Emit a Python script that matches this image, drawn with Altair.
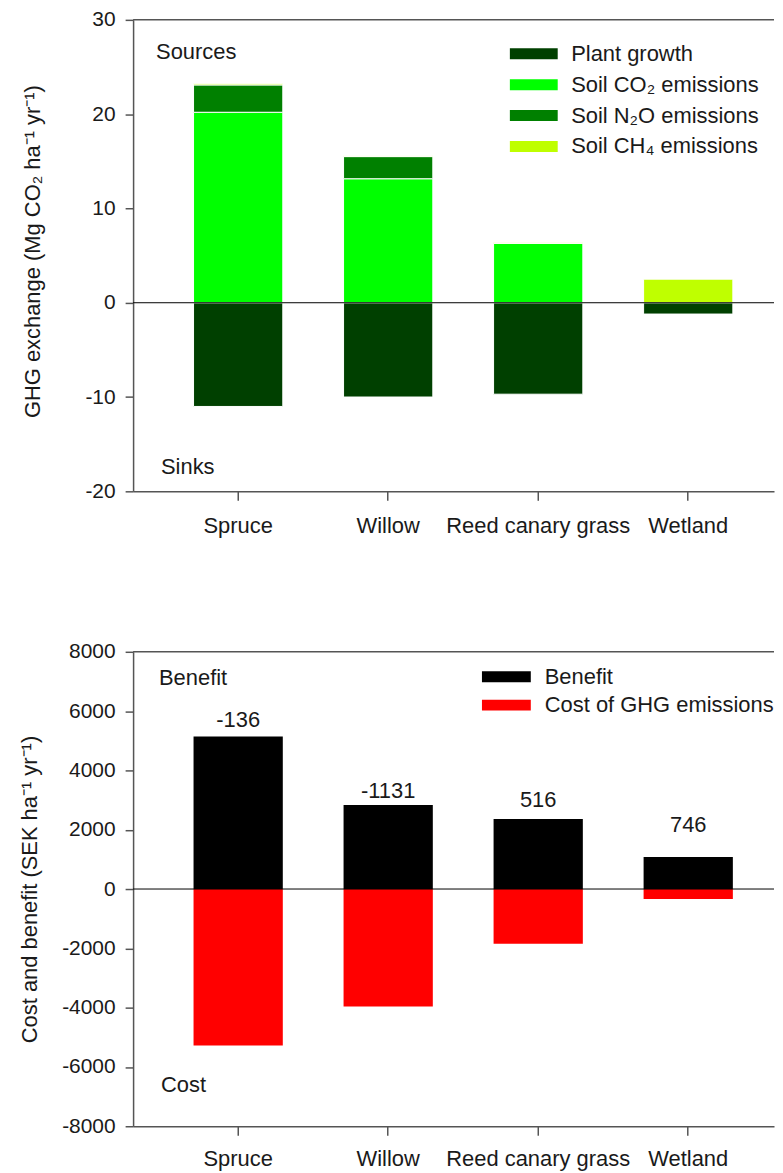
import altair as alt
import pandas as pd

# ---------------- data ----------------
CATEGORIES = ["Spruce", "Willow", "Reed canary grass", "Wetland"]

GHG_SERIES = ["Plant growth", "Soil CO₂ emissions", "Soil N₂O emissions", "Soil CH₄ emissions"]
GHG_COLORS = ["#004000", "#00ff00", "#008000", "#bfff00"]
PLANT_GROWTH = [-11.0, -10.0, -9.7, -1.2]
SOIL_CO2 = [20.2, 13.15, 6.3, 0.0]
SOIL_N2O = [2.9, 2.35, 0.0, 0.0]
SOIL_CH4 = [0.12, 0.1, 0.05, 2.5]
GHG_STACK_ORDER = [0, 1, 2, 3]

CB_SERIES = ["Benefit", "Cost of GHG emissions"]
CB_COLORS = ["#000000", "#ff0000"]
BENEFIT = [5140, 2830, 2360, 1080]
COST = [-5276, -3961, -1844, -334]
NET_LABELS = ["-136", "-1131", "516", "746"]
NET_LABEL_POS = [5690, 3300, 3000, 2150]

GHG_TICKS = [-20, -10, 0, 10, 20, 30]
CB_TICKS = [-8000, -6000, -4000, -2000, 0, 2000, 4000, 6000, 8000]

# ---------------- tables ----------------
ghg_rows = []
for series, vals, order in zip(GHG_SERIES, [PLANT_GROWTH, SOIL_CO2, SOIL_N2O, SOIL_CH4], GHG_STACK_ORDER):
    for cat, v in zip(CATEGORIES, vals):
        if v != 0:
            ghg_rows.append({"category": cat, "series": series, "value": v, "ord": order})
ghg_df = pd.DataFrame(ghg_rows)

cb_rows = []
for series, vals in zip(CB_SERIES, [BENEFIT, COST]):
    for cat, v in zip(CATEGORIES, vals):
        cb_rows.append({"category": cat, "series": series, "value": v})
cb_df = pd.DataFrame(cb_rows)

net_df = pd.DataFrame({"category": CATEGORIES, "label": NET_LABELS, "pos": NET_LABEL_POS})

# ---------------- styling ----------------
FONT = "Liberation Sans"
TXT = "#1a1a1a"
AX = "#555555"
W = 643
H_TOP = 473
H_BOT = 476
FS = 22

x_scale = alt.Scale(domain=CATEGORIES, paddingInner=0.405, paddingOuter=0.3386, align=0.595)


def x_axis(pad):
    return alt.Axis(title=None, labelAngle=0, labelFontSize=FS, labelFont=FONT, labelColor=TXT,
                    tickSize=9, tickWidth=1.5, tickColor=AX, domainColor=AX, domainWidth=1.5,
                    labelPadding=pad, labelLimit=400)


def y_axis(title, ticks, tx, ty):
    return alt.Axis(title=title, values=ticks, grid=False, labelFontSize=21, labelFont=FONT,
                    labelColor=TXT, tickSize=8, tickWidth=1.5, tickColor=AX, domainColor=AX,
                    domainWidth=1.5, labelPadding=10, labelExpr="datum.value + ''",
                    titleFont=FONT, titleFontSize=FS, titleFontWeight="normal", titleColor=TXT,
                    titleX=tx, titleY=ty, titleAngle=-90, titleBaseline="middle", titleAlign="center")


def frame_top(width):
    return alt.Chart(alt.Data(values=[{}])).mark_rule(color=AX, strokeWidth=1.5).encode(
        x=alt.value(0), x2=alt.value(width), y=alt.value(0))


def zero_rule():
    return alt.Chart(alt.Data(values=[{}])).mark_rule(color="#000000", strokeWidth=1).encode(
        y=alt.datum(0))


def note(text, xpx, yval):
    return alt.Chart(alt.Data(values=[{"t": text, "v": yval}])).mark_text(
        align="left", baseline="middle", fontSize=FS, font=FONT, color=TXT).encode(
        x=alt.value(xpx), y=alt.Y("v:Q"), text="t:N")


def key(series, colors, y_range, sw_center, sw_width, text_x):
    """Legend drawn as a small layer: swatches and labels on a point scale."""
    df = pd.DataFrame({"series": series})
    yenc = alt.Y("series:N", axis=None,
                 scale=alt.Scale(type="point", domain=series, range=y_range, padding=0))
    cenc = alt.Color("series:N", scale=alt.Scale(domain=series, range=colors), legend=None)
    sw = alt.Chart(df).mark_tick(orient="horizontal", size=sw_width, thickness=11, opacity=1).encode(
        x=alt.value(sw_center), y=yenc, color=cenc)
    tx = alt.Chart(df).mark_text(align="left", baseline="middle", fontSize=FS, font=FONT,
                                 color=TXT).encode(x=alt.value(text_x), y=yenc, text="series:N")
    return alt.layer(sw, tx)


# ---------------- top chart ----------------
ghg_bars = alt.Chart(ghg_df).mark_bar(stroke="white", strokeWidth=1).encode(
    x=alt.X("category:N", scale=x_scale, axis=x_axis(15), sort=CATEGORIES),
    y=alt.Y("value:Q", stack="zero",
            scale=alt.Scale(domain=[-20, 30], nice=False),
            axis=y_axis("GHG exchange (Mg CO₂ ha⁻¹ yr⁻¹)", GHG_TICKS, -101, 232)),
    color=alt.Color("series:N", scale=alt.Scale(domain=GHG_SERIES, range=GHG_COLORS), legend=None),
    order=alt.Order("ord:Q"),
)

top_plot = alt.layer(
    ghg_bars,
    zero_rule(),
    frame_top(W),
    note("Sources", 23, 26.6),
    note("Sinks", 28, -17.4),
)
top = alt.layer(
    top_plot,
    key(GHG_SERIES, GHG_COLORS, [34, 127], 402, 48, 439.5),
).resolve_scale(y="independent").properties(width=W, height=H_TOP)

# ---------------- bottom chart ----------------
cb_bars = alt.Chart(cb_df).mark_bar().encode(
    x=alt.X("category:N", scale=x_scale, axis=x_axis(13), sort=CATEGORIES),
    y=alt.Y("value:Q", stack="zero",
            scale=alt.Scale(domain=[-8000, 8000], nice=False),
            axis=y_axis("Cost and benefit (SEK ha⁻¹ yr⁻¹)", CB_TICKS, -104, 238)),
    color=alt.Color("series:N", scale=alt.Scale(domain=CB_SERIES, range=CB_COLORS), legend=None),
)

net_text = alt.Chart(net_df).mark_text(fontSize=FS, font=FONT, color=TXT, baseline="middle").encode(
    x=alt.X("category:N", scale=x_scale, sort=CATEGORIES),
    y=alt.Y("pos:Q"),
    text="label:N",
)

bottom_plot = alt.layer(
    cb_bars,
    net_text,
    zero_rule(),
    frame_top(W),
    note("Benefit", 26, 7130),
    note("Cost", 28, -6610),
)
bottom = alt.layer(
    bottom_plot,
    key(CB_SERIES, CB_COLORS, [25, 53.5], 374.5, 49, 413),
).resolve_scale(y="independent").properties(width=W, height=H_BOT)

chart = alt.vconcat(top, bottom, spacing=105).resolve_scale(
    color="independent", y="independent", x="independent"
).properties(
    padding={"left": 9.5, "top": -1, "right": 0, "bottom": 0}
).configure(font=FONT).configure_view(stroke=None)

chart.save("out.html", embed_options={"renderer": "svg", "actions": False})
